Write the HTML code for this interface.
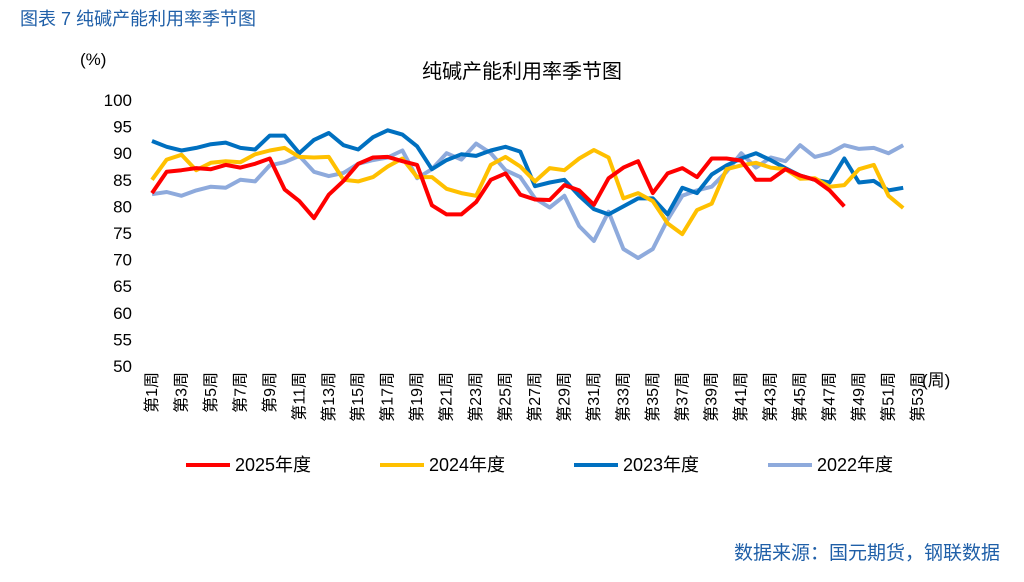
<!DOCTYPE html>
<html><head><meta charset="utf-8"><style>
body{margin:0;background:#fff;width:1024px;height:577px;overflow:hidden;font-family:"Liberation Sans","Noto Sans CJK SC",sans-serif;}
</style></head><body>
<svg id="c" width="1024" height="577" xmlns="http://www.w3.org/2000/svg" font-family="Liberation Sans, Noto Sans CJK SC, sans-serif">
<text x="20" y="25" font-size="18" fill="#1f5fa8">图表 7  纯碱产能利用率季节图</text>
<text x="522" y="78" font-size="20" text-anchor="middle" fill="#000">纯碱产能利用率季节图</text>
<text x="80" y="65" font-size="17" fill="#000">(%)</text>
<text x="922" y="386" font-size="17" fill="#000">(周)</text>
<text x="1000" y="559" font-size="19" text-anchor="end" fill="#1f5fa8">数据来源：国元期货，钢联数据</text>
<g id="yaxis"></g><g id="xaxis"></g><g id="lines"></g><g id="legend"></g>
</svg>
<script>
const yTicks=[50,55,60,65,70,75,80,85,90,95,100];
const weeks=[];for(let i=1;i<=53;i++)weeks.push(i);
const seriesNames=["2025年度","2024年度","2023年度","2022年度"];
const seriesColors=["#ff0000","#ffc000","#0070c0","#8eaadc"];
const s2025=[82.5,86.5,86.8,87.2,87,87.8,87.3,88,89,83.2,81,77.8,82.2,84.8,88,89.2,89.3,88.5,87.8,80.2,78.5,78.5,80.8,85,86.2,82.2,81.3,81.2,84,83,80.3,85.3,87.3,88.5,82.5,86.2,87.2,85.5,89,89,88.6,85,85,87,85.8,85,83,80];
const s2024=[85,88.8,89.7,86.8,88.2,88.5,88.3,89.8,90.5,91,89.3,89.2,89.3,85,84.7,85.5,87.5,89,85.5,85.5,83.3,82.5,82,87.8,89.3,87.5,84.7,87.2,86.8,89,90.6,89.2,81.5,82.5,81,76.8,74.8,79.3,80.5,87,87.7,88.2,87.3,87,85.2,85.3,83.7,84,87,87.8,82,79.7];
const s2023=[92.3,91.2,90.5,91,91.7,92,91,90.7,93.3,93.3,90,92.5,93.8,91.5,90.7,93,94.3,93.5,91.3,87,88.7,89.8,89.5,90.5,91.2,90.3,83.8,84.5,85,82,79.5,78.5,80,81.5,81.5,78.5,83.5,82.5,86,87.7,89,90,88.7,87.2,85.8,85,84.5,89,84.5,84.8,83,83.5];
const s2022=[82.3,82.7,82,83,83.7,83.5,85,84.7,87.7,88.3,89.5,86.5,85.7,86.3,88,88.7,89.2,90.5,85.3,87,90,88.8,91.8,90,86.8,85.5,81.5,79.8,82,76.3,73.5,79,72,70.3,72,77.5,82,83,83.7,86.5,90,87.3,89.2,88.5,91.5,89.3,90,91.5,90.8,91,90,91.5];
const NS="http://www.w3.org/2000/svg";
const x0=152,dx=14.73,yTop=100,yBot=366,vMin=50,vMax=100;
const X=w=>x0+(w-1)*dx;
const Y=v=>yBot-(v-vMin)/(vMax-vMin)*(yBot-yTop);
function mk(t,a,p){const e=document.createElementNS(NS,t);for(const k in a)e.setAttribute(k,a[k]);p.appendChild(e);return e;}
const ya=document.getElementById('yaxis');
yTicks.forEach(v=>{const t=mk('text',{x:132,y:Y(v)+6,'font-size':17,'text-anchor':'end',fill:'#000'},ya);t.textContent=v;

});
const xa=document.getElementById('xaxis');
weeks.forEach(w=>{if(w%2===0)return;const x=X(w)-1;const t=mk('text',{x:0,y:0,'font-size':16,'text-anchor':'end',fill:'#000',transform:`translate(${x+6},372) rotate(-90)`},xa);t.textContent='第'+w+'周';

});
const all=[s2025,s2024,s2023,s2022];
const lg=document.getElementById('lines');
for(let i=3;i>=0;i--){const d=all[i].map((v,j)=>(j?'L':'M')+X(j+1).toFixed(1)+' '+Y(v).toFixed(1)).join(' ');
const p=mk('path',{d:d,fill:'none',stroke:seriesColors[i],'stroke-width':4,'stroke-linejoin':'round'},lg);

}
const le=document.getElementById('legend');
const lx=[186,380,574,768];
seriesNames.forEach((n,i)=>{const g=mk('g',{},le);


mk('line',{x1:lx[i],y1:465,x2:lx[i]+44,y2:465,stroke:seriesColors[i],'stroke-width':4},g);
const t=mk('text',{x:lx[i]+49,y:471,'font-size':18,fill:'#000'},g);t.textContent=n;});
</script>
</body></html>
